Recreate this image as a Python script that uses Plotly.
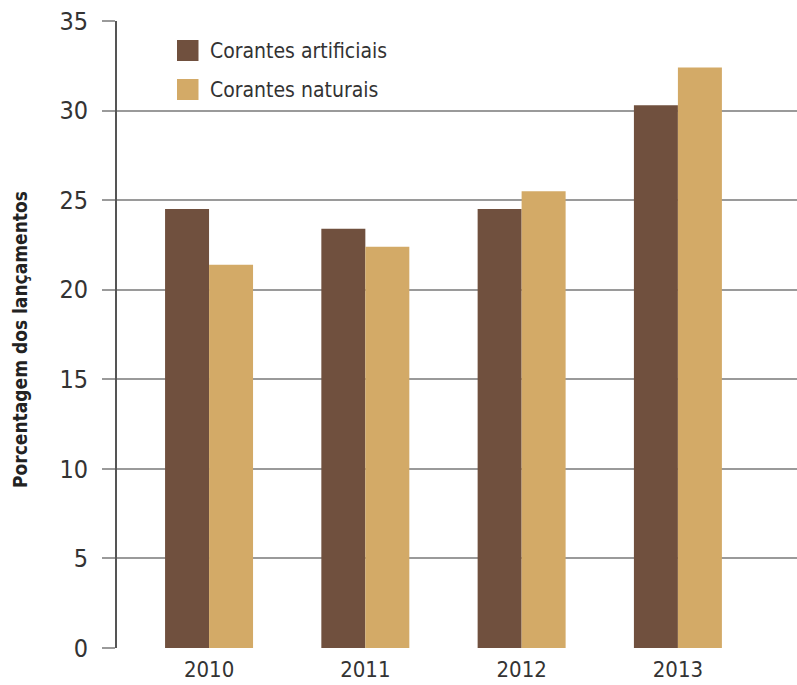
import plotly.graph_objects as go

years = [2010, 2011, 2012, 2013]
artificiais = [24.5, 23.4, 24.5, 30.3]
naturais = [21.4, 22.4, 25.5, 32.4]
series_names = ["Corantes artificiais", "Corantes naturais"]
y_ticks = [0, 5, 10, 15, 20, 25, 30, 35]

DARK = "#70503E"
TAN = "#D3AA67"
FONT = "DejaVu Sans Condensed, Liberation Sans Narrow, sans-serif"
W, H = 797, 685
L, R, T, B = 117, 0, 21, 37

fig = go.Figure()
fig.add_trace(go.Bar(x=years, y=artificiais, name=series_names[0],
                     marker=dict(color=DARK, line=dict(width=0)), showlegend=False))
fig.add_trace(go.Bar(x=years, y=naturais, name=series_names[1],
                     marker=dict(color=TAN, line=dict(width=0)), showlegend=False))

fig.update_layout(
    width=W, height=H,
    margin=dict(l=L, r=R, t=T, b=B, pad=0, autoexpand=False),
    paper_bgcolor="white", plot_bgcolor="white",
    barmode="group", bargap=0.437, bargroupgap=0,
    font=dict(family=FONT, color="#333333"),
)
fig.update_xaxes(
    range=[2009.411, 2013.762],
    tickmode="array", tickvals=years, ticktext=[str(y) for y in years],
    tickfont=dict(size=22, color="#333333"),
    showgrid=False, zeroline=False, showline=False, ticks="",
    ticklabelstandoff=6, automargin=False,
)
fig.update_yaxes(
    range=[0, 35],
    tickmode="array", tickvals=y_ticks,
    tickfont=dict(size=25, color="#333333"),
    showgrid=True, gridcolor="#9a9a9a", gridwidth=2,
    zeroline=False,
    ticks="outside", ticklen=13, tickcolor="#9a9a9a", tickwidth=2,
    showline=True, linecolor="#555555", linewidth=2,
    ticklabelstandoff=9, automargin=False,
)

pw, ph = W - L - R, H - T - B
def px(x):
    return (x - L) / pw
def py(y):
    return (H - B - y) / ph

# axis title
fig.add_annotation(
    text="<b>Porcentagem dos lançamentos</b>", textangle=-90,
    xref="paper", yref="paper", x=px(20), y=py(340),
    showarrow=False, font=dict(size=19, color="#222222", family=FONT),
    xanchor="center", yanchor="middle",
)

# legend drawn as swatches with labels
for i, (name, color) in enumerate(zip(series_names, [DARK, TAN])):
    top = 40 + i * 39
    fig.add_shape(type="rect", xref="paper", yref="paper",
                  x0=px(177), x1=px(198.5), y0=py(top + 21), y1=py(top),
                  fillcolor=color, line=dict(width=0))
    fig.add_annotation(text=name, xref="paper", yref="paper",
                       x=px(208), y=py(top + 10.5), xanchor="left", yanchor="middle",
                       showarrow=False, font=dict(size=21, color="#333333", family=FONT))

fig.write_html("out.html")
